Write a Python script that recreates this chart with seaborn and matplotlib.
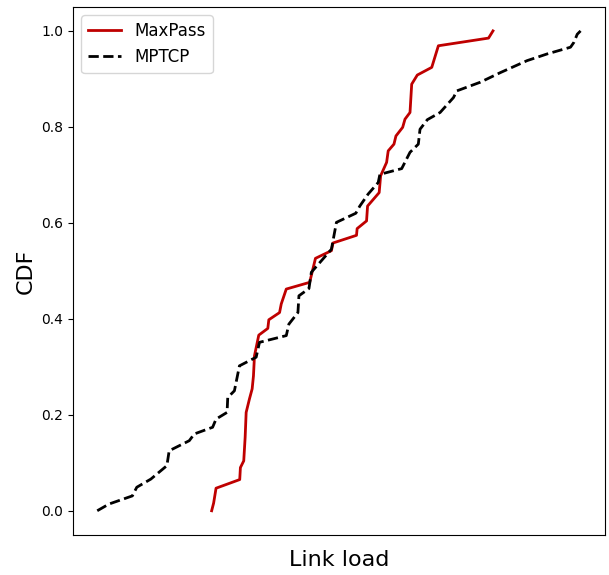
import matplotlib
matplotlib.use("Agg")
import matplotlib.pyplot as plt
import seaborn as sns
import pandas as pd

# Link load (arbitrary units) and cumulative fraction for each scheme
maxpass_load = [23.67, 24.08, 24.58, 29.48, 29.62, 30.31, 30.60, 30.81, 31.49, 32.05,
                32.32, 32.53, 33.42, 35.29, 35.50, 37.72, 38.07, 39.11, 43.95, 45.15,
                48.45, 48.78, 53.64, 53.77, 55.72, 55.93, 58.33, 58.63, 59.87, 60.20,
                61.39, 61.80, 63.19, 63.67, 64.71, 65.06, 66.22, 69.21, 70.58, 80.96,
                81.88]
maxpass_cdf = [0.000, 0.016, 0.047, 0.065, 0.090, 0.104, 0.153, 0.205, 0.233, 0.254,
               0.281, 0.323, 0.366, 0.380, 0.398, 0.413, 0.431, 0.462, 0.476, 0.526,
               0.542, 0.558, 0.574, 0.588, 0.604, 0.635, 0.663, 0.698, 0.726, 0.750,
               0.764, 0.781, 0.799, 0.816, 0.830, 0.889, 0.908, 0.924, 0.969, 0.985,
               1.000]

mptcp_load = [0.00, 2.43, 7.27, 8.18, 11.09, 14.41, 14.88, 19.04, 20.07, 23.87,
              24.58, 26.86, 27.00, 28.38, 29.42, 32.88, 33.57, 39.11, 39.65, 41.52,
              41.73, 43.80, 44.30, 48.45, 49.49, 53.50, 54.33, 56.05, 58.13, 58.48,
              62.99, 64.71, 66.43, 66.78, 68.30, 70.94, 73.70, 74.40, 79.24, 83.39,
              88.93, 93.09, 97.92, 98.61, 99.31, 100.00]
mptcp_cdf = [0.000, 0.014, 0.031, 0.049, 0.066, 0.094, 0.125, 0.146, 0.160, 0.174,
             0.191, 0.205, 0.236, 0.250, 0.302, 0.320, 0.351, 0.365, 0.389, 0.413,
             0.448, 0.463, 0.497, 0.545, 0.601, 0.620, 0.635, 0.660, 0.684, 0.701,
             0.713, 0.747, 0.764, 0.795, 0.815, 0.830, 0.861, 0.875, 0.893, 0.913,
             0.938, 0.952, 0.966, 0.976, 0.993, 1.000]

df_maxpass = pd.DataFrame({"load": maxpass_load, "cdf": maxpass_cdf})
df_mptcp = pd.DataFrame({"load": mptcp_load, "cdf": mptcp_cdf})

fig = plt.figure(figsize=(6.09, 5.75), dpi=100)
ax = fig.add_axes([0.120, 0.070, 0.873, 0.918])

sns.lineplot(data=df_maxpass, x="load", y="cdf", sort=False, estimator=None,
             color="#bf0000", linewidth=2, label="MaxPass", ax=ax)
sns.lineplot(data=df_mptcp, x="load", y="cdf", sort=False, estimator=None,
             color="black", linewidth=2, linestyle="--", label="MPTCP", ax=ax)

ax.set_xticks([])
ax.set_xlabel("Link load", fontsize=16, labelpad=11)
ax.set_ylabel("CDF", fontsize=16)
ax.legend(loc="upper left", fontsize=12)

fig.savefig("out.png", dpi=100)
